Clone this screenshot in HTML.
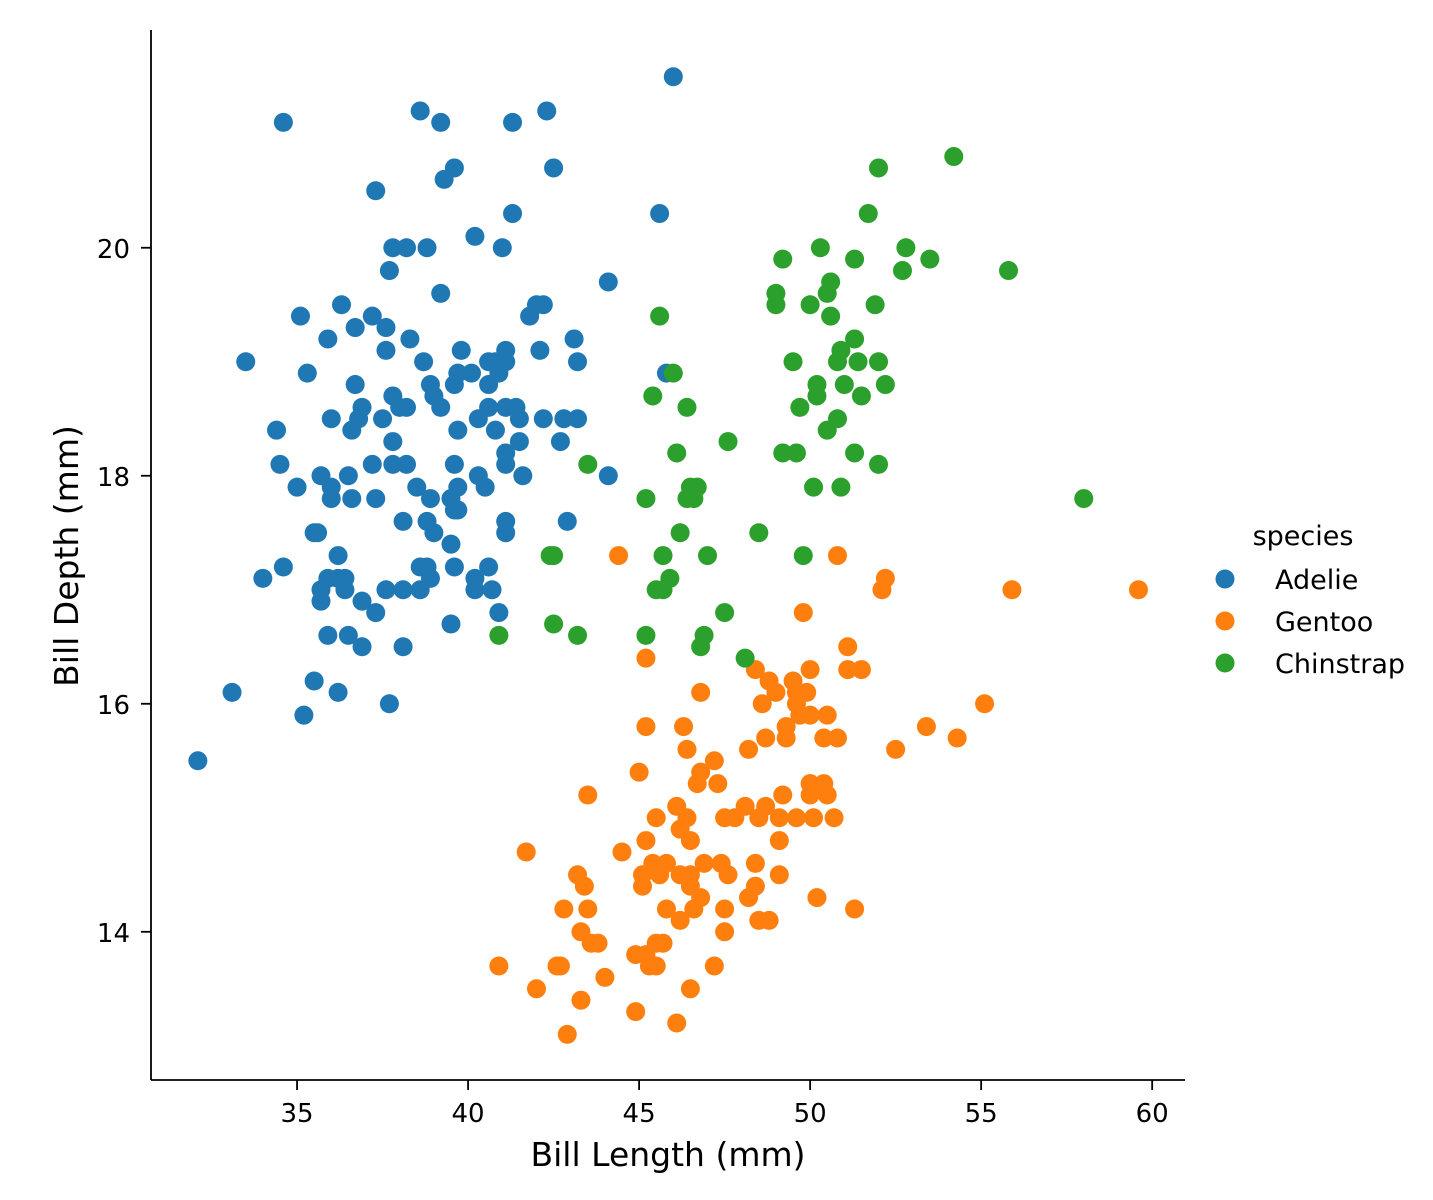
<!DOCTYPE html>
<html><head><meta charset="utf-8"><style>
html,body{margin:0;padding:0;background:#fff;}
svg{display:block;font-family:"DejaVu Sans","Liberation Sans",sans-serif;}
</style></head><body>
<svg id="chart" width="1433" height="1200" viewBox="0 0 1433 1200" xmlns="http://www.w3.org/2000/svg">
<g id="points"></g>
<g id="axes"></g>
<g id="legend"></g>
</svg>
<script>
const species = ["Adelie","Gentoo","Chinstrap"];
const colors = ["#1f77b4","#ff7f0e","#2ca02c"];
const xTicks = [35,40,45,50,55,60];
const yTicks = [14,16,18,20];
const adelieX = [46.0,34.6,38.6,39.2,41.3,42.3,42.5,39.6,39.3,37.3,41.3,45.6,40.2,37.8,38.2,38.8,41.0,37.7,44.1,39.2,35.1,36.3,37.2,42.0,42.2,41.8,35.9,36.7,37.6,38.3,43.1,33.5,37.6,38.7,39.8,41.1,42.1,43.2,35.3,39.7,40.1,40.6,40.8,41.1,40.9,45.8,36.7,38.9,39.6,40.6,36.9,37.8,39.0,39.2,38.0,38.2,40.6,41.1,41.4,34.4,36.0,36.8,36.6,37.5,39.7,40.3,40.8,41.5,42.2,42.8,43.2,37.8,41.5,42.7,41.1,34.5,37.2,37.8,38.2,39.6,41.1,35.7,36.5,40.3,41.6,44.1,35.0,36.0,38.5,39.7,40.5,36.0,36.6,37.3,38.9,39.5,39.6,39.7,39.0,38.1,38.8,41.1,42.9,35.5,35.6,41.1,39.5,36.2,34.6,38.6,38.8,39.6,40.6,34.0,35.9,36.2,36.4,38.9,40.2,35.7,36.4,37.6,38.1,38.6,40.2,40.7,35.7,36.9,37.3,40.9,35.9,36.5,39.5,36.9,38.1,33.1,36.2,35.5,37.7,35.2,32.1];
const adelieY = [21.5,21.1,21.2,21.1,21.1,21.2,20.7,20.7,20.6,20.5,20.3,20.3,20.1,20.0,20.0,20.0,20.0,19.8,19.7,19.6,19.4,19.5,19.4,19.5,19.5,19.4,19.2,19.3,19.3,19.2,19.2,19.0,19.1,19.0,19.1,19.1,19.1,19.0,18.9,18.9,18.9,19.0,19.0,19.0,18.9,18.9,18.8,18.8,18.8,18.8,18.6,18.7,18.7,18.6,18.6,18.6,18.6,18.6,18.6,18.4,18.5,18.5,18.4,18.5,18.4,18.5,18.4,18.5,18.5,18.5,18.5,18.3,18.3,18.3,18.2,18.1,18.1,18.1,18.1,18.1,18.1,18.0,18.0,18.0,18.0,18.0,17.9,17.9,17.9,17.9,17.9,17.8,17.8,17.8,17.8,17.8,17.7,17.7,17.5,17.6,17.6,17.6,17.6,17.5,17.5,17.5,17.4,17.3,17.2,17.2,17.2,17.2,17.2,17.1,17.1,17.1,17.1,17.1,17.1,17.0,17.0,17.0,17.0,17.0,17.0,17.0,16.9,16.9,16.8,16.8,16.6,16.6,16.7,16.5,16.5,16.1,16.1,16.2,16.0,15.9,15.5];
const gentooX = [44.4,50.8,52.2,52.1,55.9,59.6,49.8,51.1,45.2,48.4,50.0,51.1,51.5,48.8,49.5,46.8,49.0,49.6,49.9,48.6,49.6,55.1,49.7,50.0,50.5,49.3,45.2,46.3,53.4,48.7,49.3,50.4,50.8,54.3,46.4,48.2,52.5,47.2,45.0,46.8,46.7,47.3,50.0,50.4,43.5,49.2,50.0,50.5,46.1,48.1,48.7,45.5,46.4,47.5,47.8,48.5,49.1,49.6,50.1,50.7,46.2,45.2,46.5,49.1,41.7,44.5,45.4,45.8,46.9,47.4,48.4,43.2,45.1,45.6,46.2,46.5,47.6,49.1,43.4,45.1,46.5,48.4,46.8,48.2,50.2,42.8,43.5,45.8,46.6,47.5,51.3,46.2,48.5,48.8,43.3,47.5,43.6,43.8,45.5,45.7,44.9,45.2,40.9,42.6,42.7,45.3,45.5,47.2,44.0,42.0,46.5,43.3,44.9,46.1,42.9];
const gentooY = [17.3,17.3,17.1,17.0,17.0,17.0,16.8,16.5,16.4,16.3,16.3,16.3,16.3,16.2,16.2,16.1,16.1,16.1,16.1,16.0,16.0,16.0,15.9,15.9,15.9,15.8,15.8,15.8,15.8,15.7,15.7,15.7,15.7,15.7,15.6,15.6,15.6,15.5,15.4,15.4,15.3,15.3,15.3,15.3,15.2,15.2,15.2,15.2,15.1,15.1,15.1,15.0,15.0,15.0,15.0,15.0,15.0,15.0,15.0,15.0,14.9,14.8,14.8,14.8,14.7,14.7,14.6,14.6,14.6,14.6,14.6,14.5,14.5,14.5,14.5,14.5,14.5,14.5,14.4,14.4,14.4,14.4,14.3,14.3,14.3,14.2,14.2,14.2,14.2,14.2,14.2,14.1,14.1,14.1,14.0,14.0,13.9,13.9,13.9,13.9,13.8,13.8,13.7,13.7,13.7,13.7,13.7,13.7,13.6,13.5,13.5,13.4,13.3,13.2,13.1];
const chinstrapX = [54.2,52.0,51.7,50.3,52.8,49.2,51.3,53.5,52.7,55.8,50.6,49.0,50.5,49.0,50.0,51.9,45.6,50.6,51.3,50.9,49.5,50.8,51.4,52.0,46.0,50.2,51.0,52.2,45.4,50.2,51.5,46.4,49.7,50.8,50.5,47.6,46.1,49.2,49.6,51.3,43.5,52.0,46.5,46.7,50.1,50.9,45.2,46.4,46.6,58.0,46.2,48.5,42.4,42.5,45.7,47.0,49.8,45.9,45.5,45.7,47.5,42.5,40.9,43.2,45.2,46.9,46.8,48.1];
const chinstrapY = [20.8,20.7,20.3,20.0,20.0,19.9,19.9,19.9,19.8,19.8,19.7,19.6,19.6,19.5,19.5,19.5,19.4,19.4,19.2,19.1,19.0,19.0,19.0,19.0,18.9,18.8,18.8,18.8,18.7,18.7,18.7,18.6,18.6,18.5,18.4,18.3,18.2,18.2,18.2,18.2,18.1,18.1,17.9,17.9,17.9,17.9,17.8,17.8,17.8,17.8,17.5,17.5,17.3,17.3,17.3,17.3,17.3,17.1,17.0,17.0,16.8,16.7,16.6,16.6,16.6,16.6,16.5,16.4];

const NS="http://www.w3.org/2000/svg";
const L=151,R=1185,T=30,B=1080;
const x0=30.73,x1=60.96,y0=12.70,y1=21.91;
function sx(v){return L+(v-x0)/(x1-x0)*(R-L);}
function sy(v){return B-(v-y0)/(y1-y0)*(B-T);}
function mk(tag,attrs,parent){const e=document.createElementNS(NS,tag);for(const k in attrs)e.setAttribute(k,attrs[k]);parent.appendChild(e);return e;}

const pts=document.getElementById('points');
const allX=[adelieX,gentooX,chinstrapX], allY=[adelieY,gentooY,chinstrapY];
allX.forEach((xs,s)=>{
  xs.forEach((xv,i)=>{
    const c=mk('circle',{cx:sx(xv),cy:sy(allY[s][i]),r:9.5,fill:colors[s]},pts);
    
    
  });
});

const ax=document.getElementById('axes');
let e=mk('line',{x1:L,y1:T,x2:L,y2:B,stroke:'#000','stroke-width':1.8},ax);


e=mk('line',{x1:L,y1:B,x2:R,y2:B,stroke:'#000','stroke-width':1.8},ax);


xTicks.forEach(t=>{
  const x=sx(t);
  mk('line',{x1:x,y1:B,x2:x,y2:B+10,stroke:'#000','stroke-width':1.8},ax);
  const tx=mk('text',{x:x,y:1122,'text-anchor':'middle','font-size':26,fill:'#000'},ax);
  tx.textContent=t;
  
  
});
yTicks.forEach(t=>{
  const y=sy(t);
  mk('line',{x1:L-10,y1:y,x2:L,y2:y,stroke:'#000','stroke-width':1.8},ax);
  const tx=mk('text',{x:L-21,y:y+10,'text-anchor':'end','font-size':26,fill:'#000'},ax);
  tx.textContent=t;
  
  
});
e=mk('text',{x:668,y:1166,'text-anchor':'middle','font-size':33,fill:'#000'},ax);
e.textContent='Bill Length (mm)';


e=mk('text',{x:0,y:0,'text-anchor':'middle','font-size':33,fill:'#000',transform:'translate(78,556) rotate(-90)'},ax);
e.textContent='Bill Depth (mm)';



const lg=document.getElementById('legend');
e=mk('text',{x:1303,y:545,'text-anchor':'middle','font-size':27,fill:'#000'},lg);
e.textContent='species';


species.forEach((s,i)=>{
  const y=579+i*42;
  const c=mk('circle',{cx:1225,cy:y,r:9.5,fill:colors[i]},lg);
  
  
  const t=mk('text',{x:1275,y:y+10,'font-size':27,fill:'#000'},lg);
  t.textContent=s;
  
  
});
</script>
</body></html>
